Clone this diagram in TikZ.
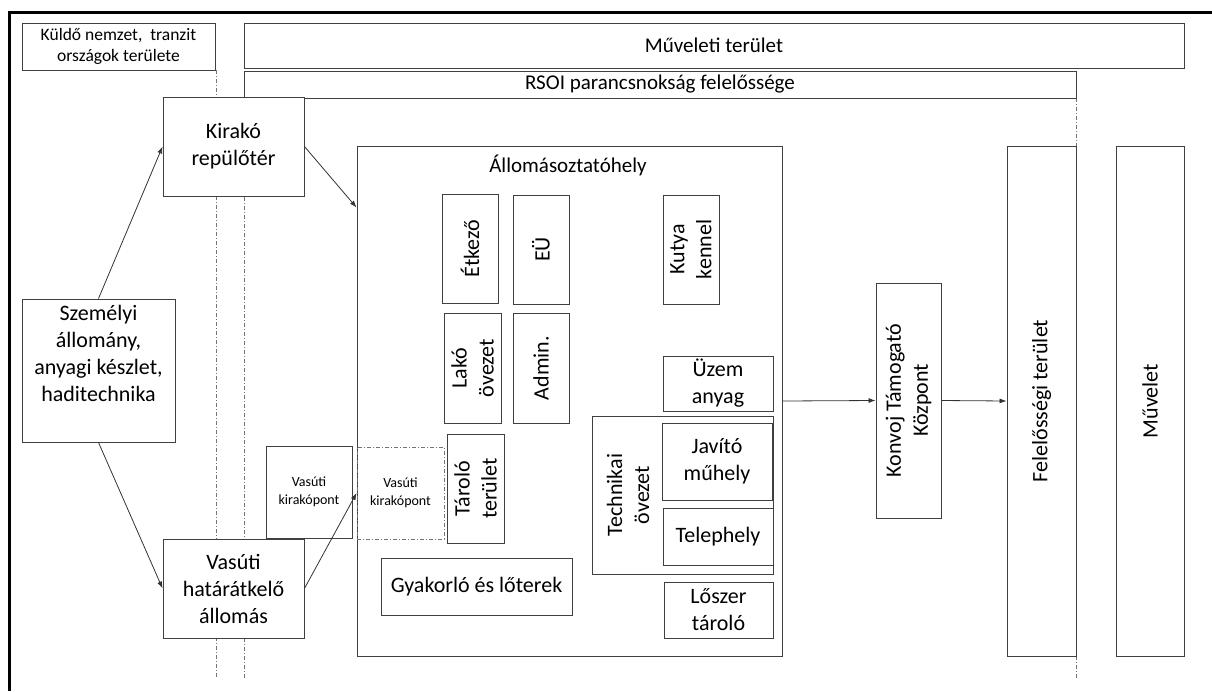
\documentclass[tikz,border=0pt]{standalone}
\usepackage{fontspec}
\setmainfont{Carlito}
\usetikzlibrary{arrows.meta}

\begin{document}
\begin{tikzpicture}[x=1pt,y=-1pt,
  box/.style={draw=black!75,line width=0.9pt,fill=white,inner sep=1pt,align=center,
    font=\fontsize{22}{27}\selectfont},
  vbox/.style={box,rotate=90},
  kozep/.style={font=\fontsize{21}{25}\selectfont},
  kicsi/.style={font=\fontsize{14}{17.5}\selectfont},
  hatar/.style={draw=black!55,line width=0.8pt,dash pattern=on 4pt off 2pt on 1pt off 2pt},
  nyil/.style={draw=black!80,line width=0.8pt,-{Latex[length=7pt,width=5pt]}}]
  \useasboundingbox (0,0) rectangle (1212,691);

  % keret
  \draw[line width=3pt] (9,691) -- (9,12) -- (1212,12);

  % hatarvonalak
  \draw[hatar] (216,70) -- (216,678);
  \draw[hatar] (244,98) -- (244,678);
  \draw[hatar] (1076,98) -- (1076,678);

  % felso savok
  \node[box,font=\fontsize{17.5}{21.5}\selectfont,minimum width=193,minimum height=47] (kuldo) at (118.5,46.5)
    {Küldő nemzet,\ \ tranzit\\országok területe};
  \node[box,kozep,minimum width=940,minimum height=45] (muveleti) at (714,45.5) {Műveleti terület};
  \node[box,kozep,minimum width=832,minimum height=27] (rsoi) at (660,84.5) {RSOI parancsnokság felelőssége};

  % bal oldal
  \node[box,minimum width=153,minimum height=143] (szemelyi) at (98.5,370.5)
    {Személyi\\állomány,\\anyagi készlet,\\haditechnika\\\strut};
  \node[box,minimum width=141,minimum height=99] (kirako) at (233.5,146.5) {Kirakó\\repülőtér};
  \node[box,minimum width=141,minimum height=99] (vasuti) at (233.5,588.5) {Vasúti\\határátkelő\\állomás};
  \node[box,kicsi,minimum width=86,minimum height=92] (kirakopont) at (309,492) {Vasúti\\kirakópont};

  % allomasoztatohely
  \node[box,minimum width=425,minimum height=510] (allomas) at (569.5,401) {};
  \node[kozep] (allomascim) at (568,165) {Állomásoztatóhely};
  \node[box,kicsi,fill=none,hatar,minimum width=87,minimum height=92] (kirakopont2) at (400.5,493) {Vasúti\\kirakópont};
  \node[vbox,minimum width=109,minimum height=56] (etkezo) at (470,248.5) {Étkező};
  \node[vbox,minimum width=109,minimum height=56] (eu) at (541,249.5) {EÜ};
  \node[vbox,minimum width=109,minimum height=56] (kutya) at (691,249.5) {Kutya\\kennel};
  \node[vbox,minimum width=110,minimum height=57] (lako) at (472.5,368) {Lakó\\övezet};
  \node[vbox,minimum width=110,minimum height=56] (admin) at (541,368) {Admin.};
  \node[vbox,minimum width=109,minimum height=57] (tarolo) at (475.5,488.5) {Tároló\\terület};
  \node[box,minimum width=191,minimum height=57] (gyakorlo) at (476.5,586.5) {Gyakorló és lőterek};
  \node[box,minimum width=110,minimum height=55] (uzem) at (718,383.5) {Üzem\\anyag};
  \node[box,minimum width=181,minimum height=158] (technikai) at (682.5,495) {};
  \node[rotate=90,align=center,font=\fontsize{22}{27}\selectfont] (technikaicim) at (628,495) {Technikai\\övezet};
  \node[box,minimum width=110,minimum height=77] (javito) at (717,461.5) {Javító\\műhely};
  \node[box,minimum width=110,minimum height=57] (telephely) at (718,536.5) {Telephely};
  \node[box,minimum width=109,minimum height=56] (loszer) at (718.5,610) {Lőszer\\tároló};

  % jobb oldal
  \node[vbox,minimum width=235,minimum height=65] (konvoj) at (908.5,400.5) {Konvoj Támogató\\Központ};
  \node[vbox,minimum width=510,minimum height=69] (felelos) at (1041.5,401) {Felelősségi terület};
  \node[vbox,minimum width=510,minimum height=68] (muvelet) at (1150,401) {Művelet};

  % nyilak
  \draw[nyil] (szemelyi.north) -- (kirako.west);
  \draw[nyil] (szemelyi.south) -- (vasuti.west);
  \draw[nyil] (kirako.east) -- ([yshift=-62pt]allomas.north west);
  \draw[nyil] (vasuti.east) -- (kirakopont2.west);
  \draw[nyil] (allomas.east) -- (konvoj.north);
  \draw[nyil] (konvoj.south) -- (felelos.north);
\end{tikzpicture}
\end{document}
